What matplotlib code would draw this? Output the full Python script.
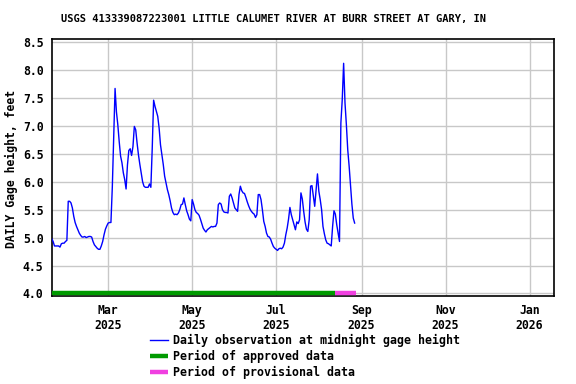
import matplotlib
matplotlib.use("Agg")
import matplotlib.pyplot as plt
import matplotlib.dates as mdates
import numpy as np

# daily gage height, one value per day starting 2025-01-19
start_day = np.datetime64("2025-01-19")
gage = [
    4.98, 4.93, 4.85, 4.85, 4.85, 4.85, 4.83, 4.89, 4.90, 4.90, 4.93, 4.95,
    5.65, 5.65, 5.62, 5.53, 5.38, 5.27, 5.20, 5.14, 5.08, 5.04, 5.01, 5.01,
    5.02, 5.00, 5.01, 5.02, 5.02, 5.01, 4.93, 4.87, 4.84, 4.81, 4.79, 4.79,
    4.85, 4.93, 5.05, 5.15, 5.21, 5.26, 5.27, 5.27, 5.90, 6.80, 7.67, 7.25,
    7.02, 6.72, 6.46, 6.34, 6.16, 6.04, 5.87, 6.30, 6.56, 6.59, 6.47, 6.63,
    6.99, 6.93, 6.69, 6.48, 6.31, 6.16, 6.00, 5.92, 5.90, 5.90, 5.90, 5.96,
    5.90, 6.60, 7.46, 7.35, 7.26, 7.17, 6.96, 6.66, 6.48, 6.31, 6.10, 5.98,
    5.86, 5.77, 5.66, 5.53, 5.45, 5.41, 5.42, 5.41, 5.44, 5.50, 5.59, 5.60,
    5.71, 5.59, 5.48, 5.41, 5.33, 5.30, 5.68, 5.60, 5.50, 5.45, 5.43, 5.40,
    5.33, 5.25, 5.17, 5.13, 5.10, 5.14, 5.16, 5.18, 5.20, 5.19, 5.20, 5.20,
    5.26, 5.59, 5.62, 5.60, 5.50, 5.46, 5.45, 5.45, 5.44, 5.74, 5.78, 5.71,
    5.62, 5.53, 5.50, 5.47, 5.77, 5.92, 5.84, 5.80, 5.79, 5.72, 5.64, 5.57,
    5.51, 5.47, 5.44, 5.42, 5.36, 5.41, 5.77, 5.77, 5.68, 5.50, 5.29, 5.20,
    5.08, 5.02, 5.01, 4.97, 4.90, 4.84, 4.81, 4.79, 4.77, 4.80, 4.81, 4.80,
    4.83, 4.90, 5.05, 5.17, 5.33, 5.54, 5.41, 5.32, 5.23, 5.14, 5.28, 5.25,
    5.32, 5.80, 5.69, 5.47, 5.28, 5.15, 5.11, 5.32, 5.92, 5.93, 5.75, 5.56,
    5.86, 6.14, 5.83, 5.68, 5.50, 5.20, 5.07, 4.96, 4.90, 4.89, 4.87, 4.85,
    5.20, 5.48, 5.42, 5.23, 5.08, 4.93, 7.05, 7.47, 8.12, 7.41, 7.02, 6.57,
    6.28, 5.95, 5.60, 5.35, 5.26,
]
dates = start_day + np.arange(len(gage))

approved = ["2025-01-19", "2025-08-13"]
provisional = ["2025-08-13", "2025-08-28"]

x_start, x_end = "2025-01-19", "2026-01-19"
tick_dates = ["2025-03-01", "2025-05-01", "2025-07-01", "2025-09-01", "2025-11-01", "2026-01-01"]
tick_labels = ["Mar\n2025", "May\n2025", "Jul\n2025", "Sep\n2025", "Nov\n2025", "Jan\n2026"]
y_ticks = [4.0, 4.5, 5.0, 5.5, 6.0, 6.5, 7.0, 7.5, 8.0, 8.5]

title = "USGS 413339087223001 LITTLE CALUMET RIVER AT BURR STREET AT GARY, IN"

plt.rcParams["font.family"] = "DejaVu Sans Mono"
plt.rcParams["font.weight"] = "bold"

fig = plt.figure(figsize=(5.76, 3.84), dpi=100)
ax = fig.add_axes([0.0898, 0.23, 0.8725, 0.6677])

ax.plot(dates, gage, color="#0000ff", lw=1.0, label="Daily observation at midnight gage height", zorder=3)
ax.plot(np.array(approved, dtype="datetime64[D]"), [4.0, 4.0], color="#009a00", lw=3.2,
        solid_capstyle="butt", label="Period of approved data", zorder=4, clip_on=False)
ax.plot(np.array(provisional, dtype="datetime64[D]"), [4.0, 4.0], color="#f040e0", lw=3.2,
        solid_capstyle="butt", label="Period of provisional data", zorder=4, clip_on=False)

ax.set_xlim(np.datetime64(x_start), np.datetime64(x_end))
ax.set_ylim(3.96, 8.55)
ax.set_xticks(np.array(tick_dates, dtype="datetime64[D]"))
ax.set_xticklabels(tick_labels, fontsize=8.3, linespacing=1.15)
ax.set_yticks(y_ticks)
ax.set_yticklabels(["%.1f" % v for v in y_ticks], fontsize=8.3)
ax.tick_params(length=0, pad=6)
ax.tick_params(axis="y", pad=6)

ax.grid(True, color="#c8c8c8", lw=1.0)
ax.set_axisbelow(True)
for s in ax.spines.values():
    s.set_linewidth(1.2)
    s.set_color("black")

fig.text(0.475, 0.95, title, ha="center", va="center", fontsize=7.5, fontweight="bold")
fig.text(0.02, 0.56, "DAILY Gage height, feet", rotation=90, ha="center", va="center",
         fontsize=8.3, fontweight="bold")

fig.legend(loc="upper left", bbox_to_anchor=(0.26, 0.13), frameon=False, fontsize=8.4,
           handlelength=1.55, handletextpad=0.45, labelspacing=0.25, borderpad=0,
           borderaxespad=0)

fig.savefig("out.png", dpi=100)
